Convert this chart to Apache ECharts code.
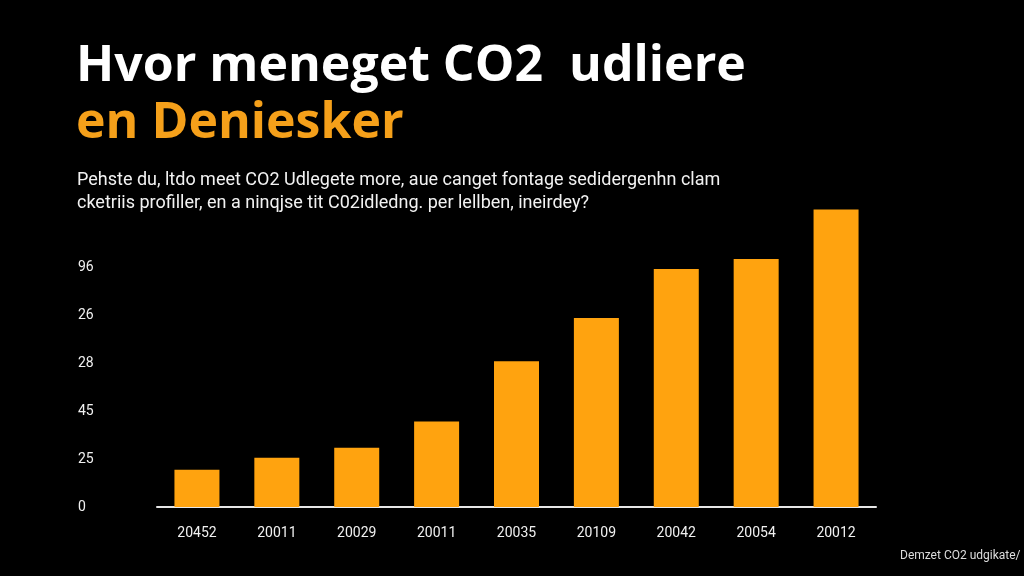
<!DOCTYPE html>
<html>
<head>
<meta charset="utf-8">
<script src="https://cdn.jsdelivr.net/npm/echarts@6/dist/echarts.min.js"></script>
<style>
  html, body { margin: 0; padding: 0; background: #000; }
  #main { width: 1024px; height: 576px; }
</style>
</head>
<body>
<div id="main"></div>
<script>
// data
var years = ['20452', '20011', '20029', '20011', '20035', '20109', '20042', '20054', '20012'];
var values = [15.5, 20.5, 24.7, 35.6, 60.7, 78.7, 99.2, 103.3, 124];
// tick labels on the y axis, bottom to top (one per 20 units)
var yTickLabels = ['0', '25', '45', '28', '26', '96'];

var titleLine1 = 'Hvor meneget CO2  udliere';
var titleLine2 = 'en Deniesker';
var subLine1 = 'Pehste du, ltdo meet CO2 Udlegete more, aue canget fontage sedidergenhn clam';
var subLine2 = 'cketriis profiller, en a ninqjse tit C02idledng. per lellben, ineirdey?';
var sourceText = 'Demzet CO2 udgikate/';

var orange = '#FFA30F';

var chart = echarts.init(document.getElementById('main'));
var option = {
  backgroundColor: '#000',
  animation: false,
  grid: {
    left: 157,
    right: 148,
    top: 207,
    bottom: 69
  },
  graphic: [
    {
      type: 'text', left: 76, top: 42,
      style: { text: titleLine1, fill: '#fff', font: 'bold 50px "Open Sans"' }
    },
    {
      type: 'text', left: 76, top: 99,
      style: { text: titleLine2, fill: '#F5A01A', font: 'bold 50px "Open Sans"' }
    },
    {
      type: 'text', left: 77, top: 171,
      style: { text: subLine1, fill: '#f2f2f2', font: '18px Roboto' }
    },
    {
      type: 'text', left: 77, top: 194,
      style: { text: subLine2, fill: '#f2f2f2', font: '18px Roboto' }
    },
    {
      type: 'text', left: 900, top: 550,
      style: { text: sourceText, fill: '#ddd', font: '12px Roboto' }
    }
  ],
  xAxis: {
    type: 'category',
    data: years,
    axisLine: { show: true, lineStyle: { color: '#e6e6e6', width: 2 } },
    axisTick: { show: false },
    axisLabel: { color: '#f0f0f0', fontSize: 14, margin: 19, fontFamily: 'Roboto' }
  },
  yAxis: {
    type: 'value',
    min: 0,
    max: 125,
    interval: 20,
    splitLine: { show: false },
    axisLine: { show: false },
    axisTick: { show: false },
    axisLabel: {
      color: '#f0f0f0',
      fontSize: 14,
      fontFamily: 'Roboto',
      align: 'left',
      margin: 79,
      formatter: function (v) {
        var i = Math.round(v / 20);
        return i < yTickLabels.length ? yTickLabels[i] : '';
      }
    }
  },
  series: [
    {
      type: 'bar',
      data: values,
      barWidth: 45,
      itemStyle: { color: orange }
    }
  ]
};
chart.setOption(option);
</script>
</body>
</html>
